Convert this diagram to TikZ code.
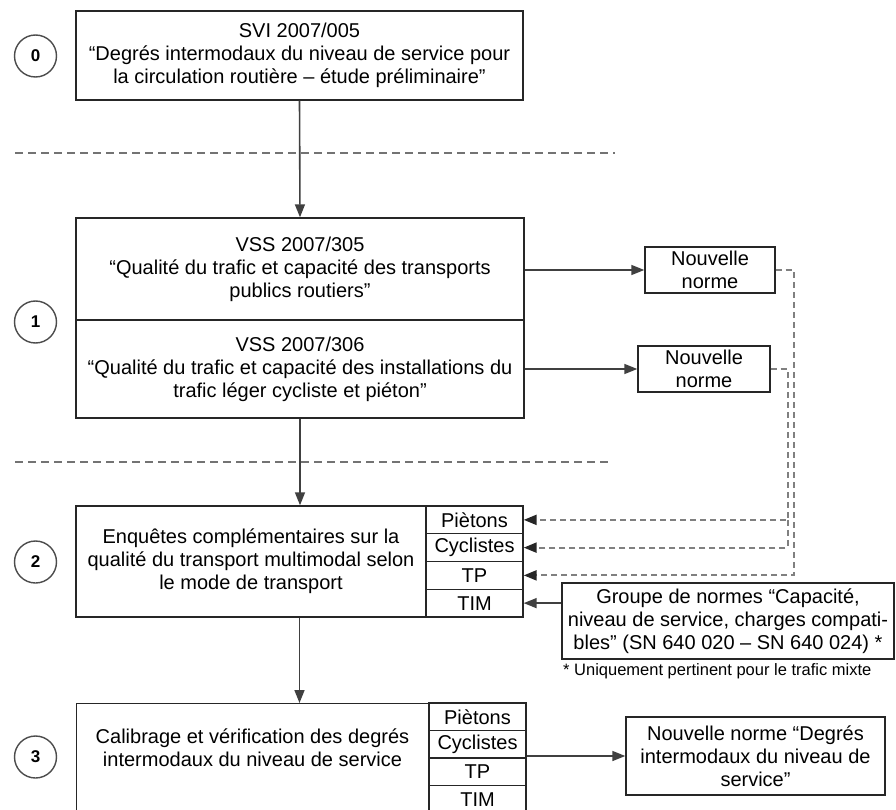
\documentclass[tikz,border=0pt]{standalone}
\usepackage{fontspec}
\setmainfont{Liberation Sans}
\usetikzlibrary{arrows.meta}

\tikzset{
  box/.style={draw=black!85, line width=1.4pt, inner sep=0pt, align=center,
    font=\fontsize{20}{23}\selectfont},
  txt/.style={inner sep=0pt, align=center, font=\fontsize{20}{23}\selectfont},
  cell/.style={box, minimum width=97},
  stage/.style={circle, draw=black!70, line width=1.4pt, minimum size=42pt,
    inner sep=0pt, font=\fontsize{17}{17}\selectfont\bfseries},
  arr/.style={draw=black!75, line width=1.6pt, -{Triangle[length=13pt,width=10pt]}},
  dasharr/.style={draw=black!50, line width=2.2pt, dash pattern=on 6pt off 4pt,
    -{Triangle[length=13pt,width=10pt,fill=black!85,color=black!85]}},
  sep/.style={draw=black!55, line width=1.7pt, dash pattern=on 8pt off 5pt}
}

\begin{document}
\begin{tikzpicture}[x=1pt, y=-1pt]
  \clip (0,0) rectangle (896,810);
  \fill[white] (0,0) rectangle (896,810);

  \node[stage] (s0) at (35.5,56) {0};
  \node[stage] (s1) at (35.5,322) {1};
  \node[stage] (s2) at (35.5,562) {2};
  \node[stage] (s3) at (35.5,757) {3};

  \node[box, minimum width=447, minimum height=89] (svi) at (299.5,55.5)
    {SVI 2007/005\\“Degrés intermodaux du niveau de service pour\\la circulation routière – étude préliminaire”};
  \node[box, minimum width=448, minimum height=102] (vss5) at (300,269)
    {VSS 2007/305\\“Qualité du trafic et capacité des transports\\publics routiers”};
  \node[box, minimum width=448, minimum height=98] (vss6) at (300,369)
    {VSS 2007/306\\“Qualité du trafic et capacité des installations du\\trafic léger cycliste et piéton”};
  \node[box, minimum width=350, minimum height=111] (enq) at (251,561.5)
    {Enquêtes complémentaires sur la\\qualité du transport multimodal selon\\le mode de transport};
  \node[box, minimum width=353, minimum height=130, anchor=north west] (cal) at (76,703) {};
  \node[txt] (caltxt) at (252.5,747.5)
    {Calibrage et vérification des degrés\\intermodaux du niveau de service};

  \foreach \nm/\lbl [count=\i from 0] in {pie/Piètons,cyc/Cyclistes,tp/TP,tim/TIM} {
    \node[cell, minimum height=27.75] (\nm2) at (474.5,{519.875+27.75*\i}) {\lbl};
    \node[cell, minimum height=27.5] (\nm3) at (477.5,{716.75+27.5*\i}) {\lbl};
  }

  \node[box, minimum width=130, minimum height=46] (nnA) at (710,270) {Nouvelle\\norme};
  \node[box, minimum width=132, minimum height=46] (nnB) at (704,369) {Nouvelle\\norme};
  \node[box, minimum width=332, minimum height=76] (grp) at (728,621)
    {Groupe de normes “Capacité,\\niveau de service, charges compati-\\bles” (SN 640 020 – SN 640 024) *};
  \node[inner sep=0pt, anchor=west, font=\fontsize{16.5}{19}\selectfont] (note) at (563,671)
    {* Uniquement pertinent pour le trafic mixte};
  \node[box, minimum width=259, minimum height=78] (nnD) at (755.5,756)
    {Nouvelle norme “Degrés\\intermodaux du niveau de\\service”};

  \draw[sep] (15,153) -- (615,153);
  \draw[sep] (15,462) -- (608,462);

  \draw[arr] (svi.south) -- (vss5.north);
  \draw[arr] (vss6.south) -- (enq.north -| vss6.south);
  \draw[arr] (svi.south |- enq.south) -- (svi.south |- cal.north);
  \draw[arr] (vss5.east |- nnA.west) -- (nnA.west);
  \draw[arr] (vss6.east |- nnB.west) -- (nnB.west);
  \draw[arr] (grp.west |- tim2.east) -- (tim2.east);
  \draw[arr] (cyc3.east |- nnD.west) -- (nnD.west);

  \draw[dasharr] (nnA.east) -- ++(18,0) |- (tp2.east);
  \draw[dasharr] (nnB.east) -- ++(17,0) coordinate (bturn) |- (pie2.east);
  \draw[dasharr] (bturn |- pie2.east) |- (cyc2.east);
\end{tikzpicture}
\end{document}
